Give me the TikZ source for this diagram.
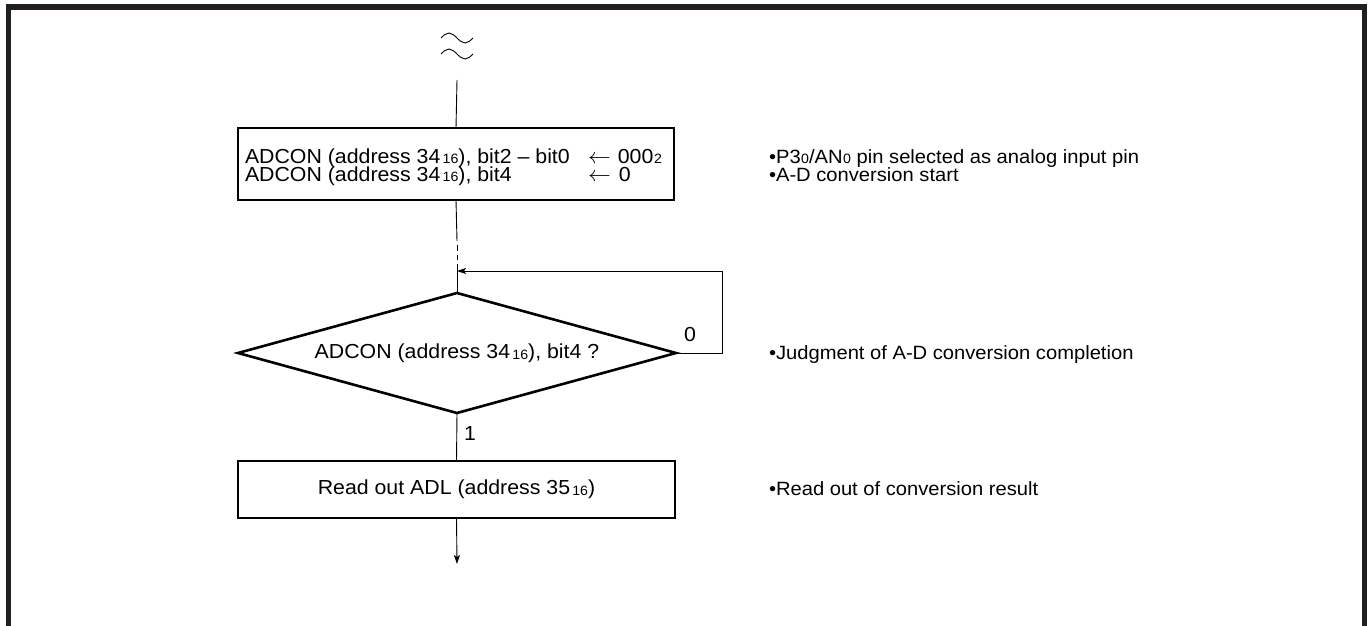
\documentclass[tikz,border=0pt]{standalone}
\usepackage{fontspec}
\setmainfont[FakeStretch=1.05]{Liberation Sans}
\usetikzlibrary{shapes.geometric,arrows.meta}
\definecolor{framec}{RGB}{35,31,32}
\newcommand{\sbs}[2][2.2pt]{\kern#1\raisebox{-0.8pt}{\fontsize{13.5}{13.5}\selectfont #2}}
\newcommand{\larr}{\scalebox{1.1}[1.05]{$\leftarrow$}}
\begin{document}
\begin{tikzpicture}[x=1pt,y=-1pt,
  every node/.style={font=\fontsize{20.3}{21}\selectfont, inner sep=0pt, outer sep=0pt},
  box/.style={draw, line width=2.6pt, rectangle},
  dec/.style={draw, line width=2.6pt, diamond},
  conn/.style={line width=0.9pt},
  arr/.style={conn, -{Stealth[length=9pt,width=6pt,inset=2pt]}},
  frame/.style={line width=5.5pt, color=framec},
  txt/.style={anchor=base west},
  note/.style={anchor=base west, font=\fontsize{19.2}{21}\selectfont}]
\useasboundingbox (0,0) rectangle (1369,626);
\fill[white] (0,0) rectangle (1369,626);
% outer frame
\draw[frame] (8.5,660) -- (8.5,7) -- (1364.5,7) -- (1364.5,660);

% break symbol
\draw[conn] (441,38) sin (449,33) cos (457,38) sin (465,43) cos (473,38);
\draw[conn] (441,54) sin (449,49) cos (457,54) sin (465,59) cos (473,54);
\coordinate (top) at (457,80);

% box 1
\node[box, minimum width=436pt, minimum height=72pt] (b1) at (456,164) {};
\node[txt] (t1) at (245,163) {ADCON (address 34\sbs{16}), bit2 \textendash\ bit0};
\node[txt] (v1) at (588,163) {\larr\kern7pt000\sbs[0.8pt]{2}};
\node[txt] (t2) at (245,181) {ADCON (address 34\sbs{16}), bit4};
\node[txt] (v2) at (588,181) {\larr\kern8pt0};

% break in line
\coordinate (s1) at (457,241);
\coordinate (d1a) at (457,245);
\coordinate (d1b) at (457,251);
\coordinate (d2a) at (457,255);
\coordinate (d2b) at (457,260);
\coordinate (j) at (457,264);

% decision
\node[dec, minimum width=438pt, minimum height=120pt] (dia) at (457,353) {};
\node (dt) at (457,353) {ADCON (address 34\sbs{16}), bit4 ?};
\coordinate (lp) at (722,271);
\coordinate (ret) at (457,271);
\node[txt] (l0) at (684,341) {0};
\node[txt] (l1) at (464,440) {1};

% box 2
\node[box, minimum width=437pt, minimum height=57pt] (b2) at (456.5,489.5) {};
\node (bt) at (456.5,489.5) {Read out ADL (address 35\sbs{16})};
\coordinate (end) at (457,564);

% connectors
\draw[conn] (top) -- (b1.north);
\draw[conn] (b1.south) -- (s1);
\draw[conn] (d1a) -- (d1b);
\draw[conn] (d2a) -- (d2b);
\draw[conn] (j) -- (dia.north);
\draw[arr] (dia.east) -| (lp) -- (ret);
\draw[conn] (dia.south) -- (b2.north);
\draw[arr] (b2.south) -- (end);

% annotations
\node[note] (n1) at (769,163) {\textbullet P3\sbs[0.5pt]{0}/AN\sbs[0.5pt]{0} pin selected as analog input pin};
\node[note] (n2) at (769,181) {\textbullet A-D conversion start};
\node[note] (n3) at (769,359) {\textbullet Judgment of A-D conversion completion};
\node[note] (n4) at (769,495) {\textbullet Read out of conversion result};
\end{tikzpicture}
\end{document}
